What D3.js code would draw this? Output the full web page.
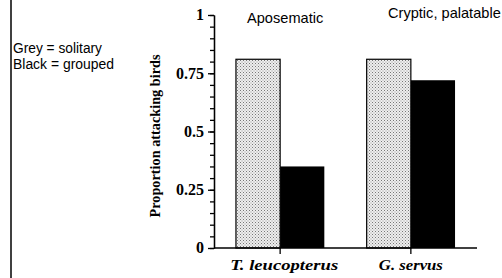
<!DOCTYPE html>
<html>
<head>
<meta charset="utf-8">
<script src="https://cdn.jsdelivr.net/npm/d3@7"></script>
<style>
  body { margin: 0; background: #fff; }
  svg { display: block; }
</style>
</head>
<body>
<div id="chart"></div>
<script>
const groups = ['T. leucopterus', 'G. servus'];
const solitary = [0.81, 0.81];
const grouped = [0.35, 0.72];
const majorTicks = [0, 0.25, 0.5, 0.75, 1];
const majorLabels = ['0', '0.25', '0.5', '0.75', '1'];
const minorTicks = d3.range(0, 21).map(i => i / 20);
const groupTitles = ['Aposematic', 'Cryptic, palatable'];
const legendLines = ['Grey = solitary', 'Black = grouped'];

const w = 502;
const h = 278;

const svg = d3.select('#chart')
  .append('svg')
  .attr('width', w)
  .attr('height', h);

// stipple for the solitary bars
const pat = svg.append('defs')
  .append('pattern')
  .attr('id', 'stipple')
  .attr('patternUnits', 'userSpaceOnUse')
  .attr('width', 3)
  .attr('height', 3);
pat.append('rect').attr('width', 3).attr('height', 3).attr('fill', '#eeeeee');
pat.append('rect').attr('x', 0).attr('y', 0).attr('width', 1).attr('height', 1).attr('fill', '#777');
pat.append('rect').attr('x', 1.5).attr('y', 1.5).attr('width', 1).attr('height', 1).attr('fill', '#999');

// left frame line
svg.append('line')
  .attr('x1', 11).attr('x2', 11)
  .attr('y1', 0).attr('y2', h)
  .attr('stroke', '#000')
  .attr('stroke-width', 1.5);

const xScale = d3.scaleBand()
  .domain(groups)
  .range([214, 477])
  .paddingInner(0.324)
  .paddingOuter(0.168);

const yScale = d3.scaleLinear()
  .domain([0, 1])
  .range([248, 15]);

const bw = xScale.bandwidth() / 2;

svg.selectAll('rect.solitary')
  .data(groups)
  .enter()
  .append('rect')
  .attr('class', 'solitary')
  .attr('x', d => xScale(d))
  .attr('y', (d, i) => yScale(solitary[i]))
  .attr('width', bw)
  .attr('height', (d, i) => yScale(0) - yScale(solitary[i]))
  .attr('fill', 'url(#stipple)')
  .attr('stroke', '#000')
  .attr('stroke-width', 1.2);

svg.selectAll('rect.grouped')
  .data(groups)
  .enter()
  .append('rect')
  .attr('class', 'grouped')
  .attr('x', d => xScale(d) + bw)
  .attr('y', (d, i) => yScale(grouped[i]))
  .attr('width', bw)
  .attr('height', (d, i) => yScale(0) - yScale(grouped[i]))
  .attr('fill', '#000');

// y axis: minor ticks then major ticks with labels
svg.append('g')
  .attr('transform', 'translate(214, 0)')
  .call(d3.axisLeft(yScale).tickValues(minorTicks).tickSize(4).tickSizeOuter(0).tickFormat(''))
  .call(g => g.selectAll('line, path').attr('stroke', '#000').attr('stroke-width', 1.3));

const yAxis = svg.append('g')
  .attr('transform', 'translate(214, 0)')
  .call(d3.axisLeft(yScale).tickValues(majorTicks).tickSize(6).tickSizeOuter(0)
    .tickFormat((d, i) => majorLabels[i]));
yAxis.selectAll('line, path').attr('stroke', '#000').attr('stroke-width', 1.3);
yAxis.selectAll('text')
  .attr('x', -10)
  .attr('dy', '0.3em')
  .attr('fill', '#000')
  .style('font-family', '"Liberation Serif", "Times New Roman", serif')
  .style('font-weight', 'bold')
  .style('font-size', '16px');

// x axis
const xAxis = svg.append('g')
  .attr('transform', 'translate(0, 248)')
  .call(d3.axisBottom(xScale).tickSize(6).tickSizeOuter(0));
xAxis.select('path').attr('d', 'M214,0H477');
xAxis.selectAll('line, path').attr('stroke', '#000').attr('stroke-width', 1.3);
xAxis.selectAll('text')
  .attr('y', 22)
  .attr('dy', 0)
  .attr('dx', (d, i) => i === 0 ? 4 : 0)
  .attr('fill', '#000')
  .attr('textLength', (d, i) => i === 0 ? 108 : 64)
  .attr('lengthAdjust', 'spacingAndGlyphs')
  .style('font-family', '"Liberation Serif", "Times New Roman", serif')
  .style('font-weight', 'bold')
  .style('font-style', 'italic')
  .style('font-size', '14.5px');

// y axis title
svg.append('text')
  .attr('transform', 'translate(160, 136) rotate(-90)')
  .attr('text-anchor', 'middle')
  .attr('textLength', 163)
  .attr('lengthAdjust', 'spacingAndGlyphs')
  .style('font-family', '"Liberation Serif", "Times New Roman", serif')
  .style('font-weight', 'bold')
  .style('font-size', '14.5px')
  .text('Proportion attacking birds');

// group titles
svg.selectAll('text.title')
  .data(groupTitles)
  .enter()
  .append('text')
  .attr('class', 'title')
  .attr('x', (d, i) => i === 0 ? 247 : 388)
  .attr('y', (d, i) => i === 0 ? 23 : 18)
  .style('font-family', '"Liberation Sans", Arial, sans-serif')
  .style('font-size', '14.6px')
  .text(d => d);

// legend note
svg.selectAll('text.note')
  .data(legendLines)
  .enter()
  .append('text')
  .attr('class', 'note')
  .attr('x', 13)
  .attr('y', (d, i) => 53 + i * 16)
  .attr('textLength', (d, i) => i === 0 ? 89 : 101)
  .attr('lengthAdjust', 'spacingAndGlyphs')
  .style('font-family', '"Liberation Sans", Arial, sans-serif')
  .style('font-size', '14px')
  .text(d => d);
</script>
</body>
</html>
